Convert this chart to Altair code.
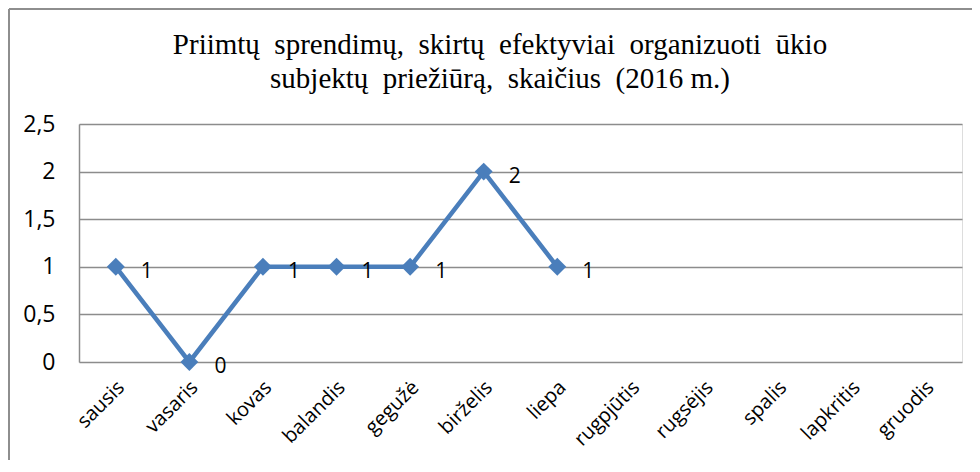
import altair as alt
import pandas as pd

months = ["sausis", "vasaris", "kovas", "balandis", "gegužė", "birželis",
          "liepa", "rugpjūtis", "rugsėjis", "spalis", "lapkritis", "gruodis"]
values = [1, 0, 1, 1, 1, 2, 1, None, None, None, None, None]
y_ticks = [0, 0.5, 1, 1.5, 2, 2.5]
NB = "\u00a0"
title_line1 = f"Priimtų{NB} sprendimų,{NB} skirtų{NB} efektyviai{NB} organizuoti{NB} ūkio"
title_line2 = f"subjektų{NB} priežiūrą,{NB} skaičius{NB} (2016 m.)"

df = pd.DataFrame({"month": months, "value": values})
df_valid = df.dropna()
one = pd.DataFrame({"k": [0]})

W, H = 883, 238
BLUE = "#4A7EBB"
GRID = "#8C8C8C"
LABEL_FONT = "Open Sans"

x_enc = alt.X("month:N", sort=months,
              scale=alt.Scale(domain=months, paddingInner=0, paddingOuter=0.5),
              axis=alt.Axis(title=None, labelAngle=-45, labelAlign="right", labelBaseline="middle",
                            labelPadding=22, labelOffset=5, labelFontSize=20,
                            ticks=False, domain=False, grid=False))
y_enc = alt.Y("value:Q", scale=alt.Scale(domain=[0, 2.5], nice=False),
              axis=alt.Axis(title=None, values=y_ticks, ticks=False, domain=True,
                            grid=True, labelPadding=24, labelFontSize=23,
                            labelExpr="replace(format(datum.value, ''), '.', ',')"))

base = alt.Chart(df_valid)
line = base.mark_line(color=BLUE, strokeWidth=4.5).encode(x=x_enc, y=y_enc)
pts = base.mark_point(shape="diamond", filled=True, size=320, color=BLUE, opacity=1).encode(
    x=alt.X("month:N", sort=months), y="value:Q")
labels = base.mark_text(dx=31, dy=5, font=LABEL_FONT, fontSize=21, color="#000000").encode(
    x=alt.X("month:N", sort=months), y="value:Q", text=alt.Text("value:Q", format="d"))

t1 = alt.Chart(one).mark_text(font="Liberation Serif", fontSize=29, color="#000000",
                              align="center", baseline="alphabetic").encode(
    x=alt.value(421), y=alt.value(-70), text=alt.value(title_line1))
t2 = alt.Chart(one).mark_text(font="Liberation Serif", fontSize=29, color="#000000",
                              align="center", baseline="alphabetic").encode(
    x=alt.value(421), y=alt.value(-36), text=alt.value(title_line2))

border_top = alt.Chart(one).mark_rule(color="#8E8E8E", strokeWidth=2).encode(
    x=alt.value(-70), x2=alt.value(W + 40), y=alt.value(-115))
border_left = alt.Chart(one).mark_rule(color="#8E8E8E", strokeWidth=2).encode(
    x=alt.value(-70), y=alt.value(-115), y2=alt.value(H + 200))

chart = alt.layer(border_top, border_left, t1, t2, line, pts, labels).properties(
    width=W, height=H,
    autosize=alt.AutoSizeParams(type="none"),
    padding={"left": 71, "top": 116, "right": 10, "bottom": 98},
).configure_view(stroke=None).configure(background="white").configure_axis(
    labelFont=LABEL_FONT, labelColor="#000000",
    gridColor=GRID, gridWidth=1.5, domainColor=GRID, domainWidth=1.5,
)

chart.save("out.html", embed_options={"renderer": "svg", "actions": False})
